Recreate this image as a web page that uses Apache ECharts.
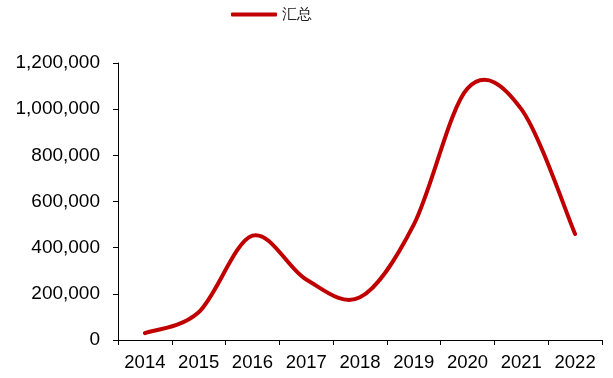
<!DOCTYPE html>
<html>
<head>
<meta charset="utf-8">
<script src="https://cdn.jsdelivr.net/npm/echarts@6/dist/echarts.min.js"></script>
<style>
  html, body { margin: 0; padding: 0; background: #fff; }
  #chart { width: 613px; height: 378px; }
</style>
</head>
<body>
<div id="chart"></div>
<script>
// Yearly totals
const years = ['2014', '2015', '2016', '2017', '2018', '2019', '2020', '2021', '2022'];
const totals = [30000, 120000, 452000, 262000, 185000, 500000, 1090000, 1000000, 459000];
const seriesName = '汇总';
const yMin = 0;
const yMax = 1200000;
const yStep = 200000;

const lineColor = '#C00000';
const font = 'Liberation Sans, Arial, sans-serif';

// Smoothed curve through the yearly points (Catmull-Rom segments as cubic Béziers),
// positioned with the chart's own coordinate system.
function renderCurve(params, api) {
  if (params.dataIndex !== 0) return null;
  const pts = totals.map((v, i) => api.coord([i, v]));
  const n = pts.length;
  let d = 'M' + pts[0][0] + ' ' + pts[0][1];
  for (let i = 0; i < n - 1; i++) {
    const p0 = pts[Math.max(i - 1, 0)];
    const p1 = pts[i];
    const p2 = pts[i + 1];
    const p3 = pts[Math.min(i + 2, n - 1)];
    const c1x = p1[0] + (p2[0] - p0[0]) / 6;
    const c1y = p1[1] + (p2[1] - p0[1]) / 6;
    const c2x = p2[0] - (p3[0] - p1[0]) / 6;
    const c2y = p2[1] - (p3[1] - p1[1]) / 6;
    d += ' C' + c1x + ' ' + c1y + ' ' + c2x + ' ' + c2y + ' ' + p2[0] + ' ' + p2[1];
  }
  return {
    type: 'path',
    shape: { pathData: d },
    style: { fill: 'none', stroke: lineColor, lineWidth: 4, lineCap: 'round', lineJoin: 'round' },
    silent: true
  };
}

const chart = echarts.init(document.getElementById('chart'), null, { renderer: 'canvas' });

chart.setOption({
  animation: false,
  backgroundColor: '#ffffff',
  legend: {
    data: [seriesName],
    left: 226,
    top: 2,
    icon: 'roundRect',
    itemWidth: 46,
    itemHeight: 4,
    textStyle: { fontFamily: font, fontSize: 15, color: '#222' }
  },
  grid: { left: 118, right: 11, top: 63, bottom: 38, containLabel: false },
  xAxis: {
    type: 'category',
    data: years,
    boundaryGap: true,
    axisLine: { lineStyle: { color: '#000', width: 1 } },
    axisTick: { show: true, interval: 0, length: 5, lineStyle: { color: '#000' } },
    axisLabel: { interval: 0, hideOverlap: false, fontFamily: font, fontSize: 18.5, color: '#000', margin: 13 },
    splitLine: { show: false }
  },
  yAxis: {
    type: 'value',
    min: yMin,
    max: yMax,
    interval: yStep,
    axisLine: { show: true, lineStyle: { color: '#000', width: 1 } },
    axisTick: { show: true, length: 5, lineStyle: { color: '#000' } },
    axisLabel: {
      fontFamily: font, fontSize: 19, color: '#000', margin: 18,
      formatter: v => v.toLocaleString('en-US')
    },
    splitLine: { show: false }
  },
  series: [{
    name: seriesName,
    type: 'custom',
    renderItem: renderCurve,
    data: totals.map((v, i) => [i, v]),
    encode: { x: 0, y: 1 },
    itemStyle: { color: lineColor },
    clip: false
  }]
});
</script>
</body>
</html>
